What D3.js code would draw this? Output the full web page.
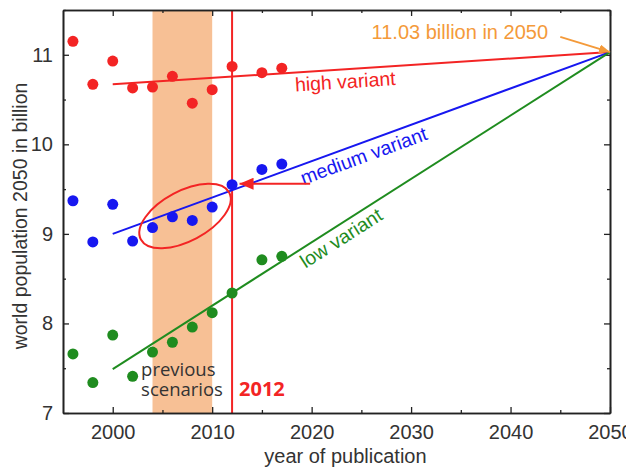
<!DOCTYPE html>
<html>
<head>
<meta charset="utf-8">
<script src="https://cdn.jsdelivr.net/npm/d3@7"></script>
<style>
  body { margin: 0; background: #fff; }
  svg { display: block; font-family: "Liberation Sans", Arial, sans-serif; }
</style>
</head>
<body>
<div id="chart"></div>
<script>
// publication years of the UN scenarios
const years = [1996, 1998, 2000, 2002, 2004, 2006, 2008, 2010, 2012, 2015, 2017];
// projected world population in 2050 (billion)
const high = [11.15, 10.67, 10.93, 10.63, 10.64, 10.76, 10.46, 10.61, 10.87, 10.80, 10.85];
const medium = [9.37, 8.91, 9.33, 8.92, 9.07, 9.19, 9.15, 9.30, 9.55, 9.72, 9.78];
const low = [7.66, 7.34, 7.87, 7.41, 7.68, 7.79, 7.96, 8.12, 8.34, 8.71, 8.75];

// fitted lines converge to 11.03 in 2050
const trendYears = [2000, 2050];
const highTrend = [10.67, 11.03];
const mediumTrend = [9.0, 11.03];
const lowTrend = [7.49, 11.03];

const xTicks = [2000, 2010, 2020, 2030, 2040, 2050];
const xMinor = [2005, 2015, 2025, 2035, 2045];
const yTicks = [7, 8, 9, 10, 11];
const yMinor = [7.5, 8.5, 9.5, 10.5, 11.5];

const band = [2004, 2010];   // previous scenarios
const markYear = 2012;

const width = 626, height = 469;
const margin = {top: 10, right: 16, bottom: 56, left: 63};
const w = width - margin.left - margin.right;
const h = height - margin.top - margin.bottom;

const colors = {high: "#f32424", medium: "#1717f0", low: "#1f8c1f", orange: "#f49a3a", band: "#f7c095", axis: "#222"};

const svg = d3.select("#chart").append("svg")
    .attr("width", width)
    .attr("height", height);

const defs = svg.append("defs");
function marker(id, color, len, half) {
    defs.append("marker")
        .attr("id", id)
        .attr("viewBox", `0 ${-half} ${len} ${half * 2}`)
        .attr("refX", len).attr("refY", 0)
        .attr("markerUnits", "userSpaceOnUse")
        .attr("markerWidth", len).attr("markerHeight", half * 2)
        .attr("orient", "auto")
      .append("path")
        .attr("d", `M0,${-half}L${len},0L0,${half}Z`)
        .attr("fill", color);
}
marker("arrRed", colors.high, 14, 6);
marker("arrOrange", colors.orange, 11, 4.5);

const g = svg.append("g")
    .attr("transform", "translate(" + margin.left + "," + margin.top + ")");

// scales
const x = d3.scaleLinear().domain([1995, 2050]).range([0, w]);
const y = d3.scaleLinear().domain([7, 11.5]).range([h, 0]);

// shaded band
g.append("rect")
    .attr("x", x(band[0]))
    .attr("y", 0)
    .attr("width", x(band[1]) - x(band[0]))
    .attr("height", h)
    .attr("fill", colors.band);

// 2012 vertical line
g.append("line")
    .attr("x1", x(markYear)).attr("x2", x(markYear))
    .attr("y1", 0).attr("y2", h)
    .attr("stroke", colors.high)
    .attr("stroke-width", 2);

// axes (ticks pointing inward)
function styleAxis(sel) {
    sel.selectAll("path").attr("stroke", colors.axis).attr("stroke-width", 1.6);
    sel.selectAll("line").attr("stroke", colors.axis).attr("stroke-width", 1.3);
    sel.selectAll("text").attr("fill", "#333").style("font-size", "20px")
        .style("font-family", "'Liberation Sans', Arial, sans-serif");
}

g.append("g").attr("transform", "translate(0," + h + ")")
    .call(d3.axisBottom(x).tickValues(xTicks).tickFormat(d3.format("d"))
        .tickSize(-6).tickSizeOuter(0).tickPadding(11.5))
    .call(styleAxis);
g.append("g").attr("transform", "translate(0," + h + ")")
    .call(d3.axisBottom(x).tickValues(xMinor).tickFormat("").tickSize(-3).tickSizeOuter(0))
    .call(styleAxis);
g.append("g")
    .call(d3.axisTop(x).tickValues(xTicks).tickFormat("").tickSize(-6).tickSizeOuter(0))
    .call(styleAxis);
g.append("g")
    .call(d3.axisTop(x).tickValues(xMinor).tickFormat("").tickSize(-3).tickSizeOuter(0))
    .call(styleAxis);

g.append("g")
    .call(d3.axisLeft(y).tickValues(yTicks).tickFormat(d3.format("d"))
        .tickSize(-6).tickSizeOuter(0).tickPadding(10))
    .call(styleAxis);
g.append("g")
    .call(d3.axisLeft(y).tickValues(yMinor).tickFormat("").tickSize(-3).tickSizeOuter(0))
    .call(styleAxis);
g.append("g").attr("transform", "translate(" + w + ",0)")
    .call(d3.axisRight(y).tickValues(yTicks).tickFormat("").tickSize(-6).tickSizeOuter(0))
    .call(styleAxis);
g.append("g").attr("transform", "translate(" + w + ",0)")
    .call(d3.axisRight(y).tickValues(yMinor).tickFormat("").tickSize(-3).tickSizeOuter(0))
    .call(styleAxis);

// axis titles
g.append("text")
    .attr("x", x(2023.4))
    .attr("y", h + 50)
    .attr("text-anchor", "middle")
    .attr("fill", "#333")
    .style("font-size", "20px")
    .text("year of publication");

g.append("text")
    .attr("transform", "translate(" + (-36) + "," + y(9.2) + ") rotate(-90)")
    .attr("text-anchor", "middle")
    .attr("fill", "#333")
    .style("font-size", "19.5px")
    .text("world population 2050 in billion");

// trend lines
const series = [
    {name: "high", values: high, trend: highTrend, label: "high variant", at: 2023.3, dy: 19},
    {name: "medium", values: medium, trend: mediumTrend, label: "medium variant", at: 2024.8, dy: 19.5},
    {name: "low", values: low, trend: lowTrend, label: "low variant", at: 2022.3, dy: 19}
];

const line = d3.line()
    .x((d, i) => x(trendYears[i]))
    .y(d => y(d));

series.forEach(s => {
    g.append("path")
        .datum(s.trend)
        .attr("d", line)
        .attr("fill", "none")
        .attr("stroke", colors[s.name])
        .attr("stroke-width", 2);
});

// dots
series.forEach(s => {
    g.selectAll(".dot-" + s.name)
        .data(s.values)
        .enter().append("circle")
        .attr("class", "dot-" + s.name)
        .attr("cx", (d, i) => x(years[i]))
        .attr("cy", d => y(d))
        .attr("r", 5.5)
        .attr("fill", colors[s.name]);
});

// variant labels along their lines
series.forEach(s => {
    const t = (s.at - trendYears[0]) / (trendYears[1] - trendYears[0]);
    const v = s.trend[0] + t * (s.trend[1] - s.trend[0]);
    const angle = Math.atan2(y(s.trend[1]) - y(s.trend[0]), x(trendYears[1]) - x(trendYears[0])) * 180 / Math.PI;
    g.append("text")
        .attr("transform", "translate(" + x(s.at) + "," + y(v) + ") rotate(" + angle + ")")
        .attr("text-anchor", "middle")
        .attr("dy", s.dy)
        .attr("fill", colors[s.name])
        .style("font-size", "19.5px")
        .text(s.label);
});

// ellipse around the previous medium scenarios
g.append("ellipse")
    .attr("transform", "translate(" + x(2007.27) + "," + y(9.2) + ") rotate(-28)")
    .attr("rx", 50)
    .attr("ry", 25)
    .attr("fill", "none")
    .attr("stroke", colors.high)
    .attr("stroke-width", 2);

// red arrow pointing to the 2012 medium value
g.append("line")
    .attr("x1", x(2019.85)).attr("y1", y(9.56))
    .attr("x2", x(2012.75)).attr("y2", y(9.56))
    .attr("stroke", colors.high)
    .attr("stroke-width", 2.2)
    .attr("marker-end", "url(#arrRed)");

// 11.03 annotation
g.append("text")
    .attr("x", x(2034.9))
    .attr("y", y(11.18))
    .attr("text-anchor", "middle")
    .attr("fill", colors.orange)
    .style("font-size", "20px")
    .text("11.03 billion in 2050");

g.append("line")
    .attr("x1", x(2045.0)).attr("y1", y(11.2))
    .attr("x2", x(2050)).attr("y2", y(11.03))
    .attr("stroke", colors.orange)
    .attr("stroke-width", 2)
    .attr("marker-end", "url(#arrOrange)");

// band label and year marker
const prev = g.append("text")
    .attr("fill", "#333")
    .style("font-family", "'Open Sans', sans-serif")
    .style("font-size", "18.5px");
prev.append("tspan").attr("x", x(2002.85)).attr("y", y(7.41)).text("previous");
prev.append("tspan").attr("x", x(2002.85)).attr("y", y(7.19)).text("scenarios");

g.append("text")
    .attr("x", x(2012.7))
    .attr("y", y(7.19))
    .attr("fill", colors.high)
    .style("font-family", "'Open Sans', sans-serif")
    .style("font-weight", "bold")
    .style("font-size", "20px")
    .text("2012");
</script>
</body>
</html>
